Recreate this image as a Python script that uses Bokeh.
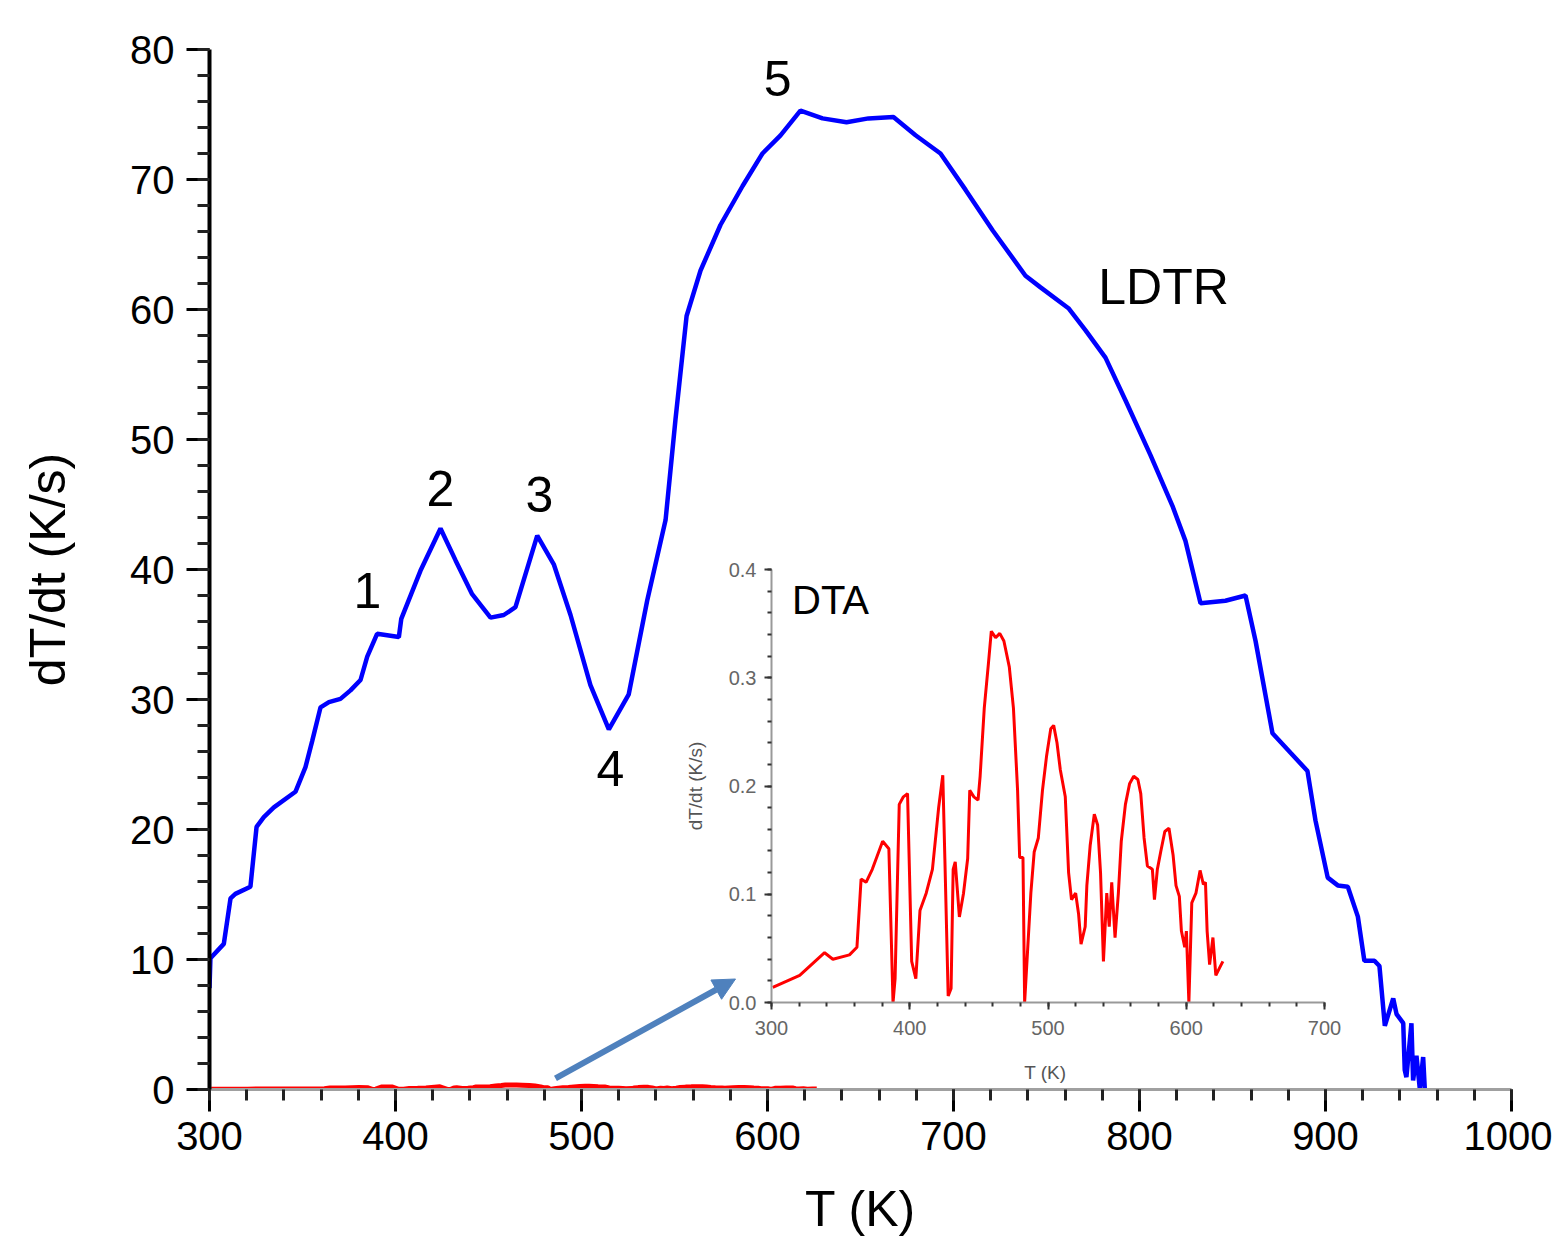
from bokeh.plotting import figure
from bokeh.layouts import column
from bokeh.models import (ColumnDataSource, SingleIntervalTicker, Arrow, NormalHead,
                          Label, NumeralTickFormatter, Range1d)
from bokeh.embed import file_html
from bokeh.resources import INLINE

FONT = "Liberation Sans"

# ---------------- data ----------------
ldtr_T = [300, 300.5, 307.7, 311.3, 313.9, 322, 325.3, 329.2, 334.6, 346.2, 351.6, 355.2,
          359.7, 364.2, 370.4, 375.8, 381.2, 384.8, 390.1, 401.8, 403.1, 413.4, 424.2,
          432.3, 441.2, 451.1, 458.2, 464.5, 476.2, 485.1, 494.1, 504.8, 514.7, 525.4,
          535.3, 545.2, 550.5, 556.5, 564, 574.7, 586.6, 597.3, 607, 617.7, 629.6, 642.5,
          654.3, 667.7, 679.6, 693, 706.5, 721, 738.7, 746.8, 761.8, 771, 781.7, 792.5,
          805.9, 817.7, 824.7, 832.8, 846.2, 857, 862.4, 871.5, 881.2, 890.3, 894.6,
          901.2, 906.6, 912, 917.4, 920.9, 926.3, 929, 931.9, 936.4, 938.2, 941.8, 942.6,
          943.5, 946.2, 947.1, 948.9, 950.7, 952.5, 953.4]
ldtr_v = [7.8, 10.1, 11.2, 14.7, 15.05, 15.6, 20.2, 20.95, 21.7, 22.9, 24.8, 26.8,
          29.4, 29.8, 30.05, 30.7, 31.5, 33.3, 35.05, 34.8, 36.2, 39.9, 43.15,
          40.7, 38.1, 36.3, 36.5, 37.1, 42.6, 40.4, 36.5, 31.1, 27.7, 30.4,
          37.6, 43.8, 51.5, 59.5, 63, 66.5, 69.5, 72, 73.4, 75.3, 74.7, 74.4,
          74.7, 74.8, 73.4, 72, 69.2, 66.1, 62.6, 61.7, 60.1, 58.4, 56.3, 53,
          48.8, 44.9, 42.2, 37.4, 37.6, 38, 34.5, 27.4, 25.9, 24.5, 20.7,
          16.3, 15.7, 15.6, 13.3, 9.9, 9.9, 9.5, 4.9, 7.0, 5.8, 5.1, 1.5,
          0.95, 5.1, 0.7, 2.6, 0.05, 2.5, 0.0]

dta_T = [300.9, 320.4, 338.4, 344.4, 356.4, 361.8, 364.8, 368.4, 372.9, 380.4, 384.9,
         387.9, 389.4, 392.4, 395.4, 398.4, 401.4, 404.4, 407.4, 411.9, 416.4, 420.9,
         423.9, 425.4, 427.8, 429.9, 431.4, 432.9, 435.9, 438.9, 441.9, 443.4, 446.4,
         449.4, 450.9, 453.9, 456.9, 459.0, 462.1, 465.1, 468.1, 472.0, 475.0, 478.0,
         479.5, 481.9, 483.1, 485.5, 487.6, 490.0, 493.0, 496.0, 499.0, 502.0, 504.1,
         506.5, 508.9, 512.5, 514.9, 517.0, 520.0, 522.1, 523.9, 526.9, 528.1, 530.5,
         533.5, 535.9, 538.0, 540.1, 542.5, 544.3, 546.1, 548.5, 550.9, 553.0, 556.0,
         559.0, 562.0, 565.0, 567.1, 569.5, 571.9, 575.5, 577.0, 579.1, 581.5, 584.5,
         587.5, 590.5, 592.6, 595.0, 596.5, 598.9, 600.1, 601.9, 604.0, 607.0, 610.0,
         612.4, 613.9, 615.1, 616.9, 619.3, 621.4, 624.1, 626.5]
dta_v = [0.014, 0.025, 0.046, 0.040, 0.044, 0.051, 0.114, 0.111, 0.123, 0.149, 0.142,
         0.0, 0.022, 0.183, 0.190, 0.193, 0.038, 0.022, 0.085, 0.101, 0.123, 0.180,
         0.210, 0.133, 0.006, 0.013, 0.123, 0.130, 0.079, 0.101, 0.133, 0.196, 0.190,
         0.187, 0.209, 0.272, 0.313, 0.343, 0.337, 0.341, 0.334, 0.310, 0.272, 0.196,
         0.134, 0.134, 0.0, 0.054, 0.101, 0.139, 0.152, 0.196, 0.228, 0.253, 0.256,
         0.240, 0.215, 0.190, 0.120, 0.095, 0.101, 0.082, 0.054, 0.070, 0.108, 0.145,
         0.174, 0.164, 0.120, 0.038, 0.101, 0.070, 0.111, 0.060, 0.101, 0.149, 0.183,
         0.202, 0.209, 0.206, 0.193, 0.152, 0.126, 0.123, 0.095, 0.123, 0.139, 0.158,
         0.161, 0.136, 0.108, 0.098, 0.066, 0.051, 0.066, 0.0, 0.092, 0.101, 0.122,
         0.109, 0.111, 0.066, 0.035, 0.060, 0.025, 0.032, 0.038]

peak_labels = ["1", "2", "3", "4", "5"]
peak_T = [384.9, 424.2, 477.4, 515.6, 605.4]
peak_v = [38.4, 46.2, 45.8, 24.7, 77.8]

ldtr_src = ColumnDataSource(dict(T=ldtr_T, v=ldtr_v))
dta_src = ColumnDataSource(dict(T=dta_T, v=dta_v))

# ---------------- main plot ----------------
LEFT, RIGHT, TOP, BOTTOM = 209, 41, 49, 151
FRAME_W, FRAME_H = 1302, 1040
main = figure(width=LEFT + FRAME_W + RIGHT, height=TOP + FRAME_H + BOTTOM,
              x_range=Range1d(300, 1000), y_range=Range1d(0, 80),
              output_backend="svg", toolbar_location=None,
              min_border_left=LEFT, min_border_right=RIGHT, min_border_top=TOP,
              min_border_bottom=BOTTOM)
main.outline_line_color = None
main.grid.visible = False

main.line("T", "v", source=ldtr_src, line_color="#0000ff", line_width=4.5)
main.line("T", "v", source=dta_src, line_color="#ff0000", line_width=5)

xa = main.xaxis[0]
xa.ticker = SingleIntervalTicker(interval=100, num_minor_ticks=5)
xa.axis_line_color = "#a0a0a0"
xa.axis_line_width = 3
xa.major_tick_line_color = "black"
xa.minor_tick_line_color = "#222222"
xa.major_tick_line_width = 3
xa.minor_tick_line_width = 3
xa.major_tick_out = 22
xa.major_tick_in = 0
xa.minor_tick_out = 11
xa.minor_tick_in = 0
xa.major_label_text_font = FONT
xa.major_label_text_font_size = "40px"
xa.major_label_text_color = "black"
xa.major_label_standoff = 10
xa.axis_label = "T (K)"
xa.axis_label_text_font = FONT
xa.axis_label_text_font_size = "50px"
xa.axis_label_text_font_style = "normal"
xa.axis_label_text_color = "black"
xa.axis_label_standoff = 28

ya = main.yaxis[0]
ya.ticker = SingleIntervalTicker(interval=10, num_minor_ticks=5)
ya.axis_line_color = "black"
ya.axis_line_width = 4
ya.major_tick_line_color = "black"
ya.minor_tick_line_color = "#222222"
ya.major_tick_line_width = 3
ya.minor_tick_line_width = 3
ya.major_tick_out = 23
ya.major_tick_in = 0
ya.minor_tick_out = 12
ya.minor_tick_in = 0
ya.major_label_text_font = FONT
ya.major_label_text_font_size = "40px"
ya.major_label_text_color = "black"
ya.major_label_standoff = 12
ya.axis_label = "dT/dt (K/s)"
ya.axis_label_text_font = FONT
ya.axis_label_text_font_size = "50px"
ya.axis_label_text_font_style = "normal"
ya.axis_label_text_color = "black"
ya.axis_label_standoff = 51

for t, x, y in zip(peak_labels, peak_T, peak_v):
    main.add_layout(Label(x=x, y=y, text=t, text_align="center", text_baseline="middle",
                          text_font=FONT, text_font_size="50px", text_color="black"))
main.add_layout(Label(x=812.9, y=61.7, text="LDTR", text_align="center",
                      text_baseline="middle", text_font=FONT, text_font_size="50px",
                      text_color="black"))

main.add_layout(Arrow(end=NormalHead(size=22, fill_color="#4f81bd", line_color="#4f81bd"),
                      x_start=486, y_start=0.85, x_end=582.8, y_end=8.5,
                      line_color="#4f81bd", line_width=6))

# ---------------- inset ----------------
# In a column Bokeh aligns the side borders of the plots, so the inset shares
# the main plot's left/right borders; its frame is placed with CSS.
IN_FRAME_W, IN_FRAME_H = 553, 436
IN_TOP, IN_BOTTOM = 10, 80
IN_FRAME_LEFT, IN_FRAME_TOP = 771, 569
inset = figure(width=LEFT + IN_FRAME_W + RIGHT, height=IN_TOP + IN_FRAME_H + IN_BOTTOM,
               x_range=Range1d(300, 700), y_range=Range1d(0, 0.4),
               output_backend="svg", toolbar_location=None,
               min_border_left=LEFT, min_border_right=RIGHT, min_border_top=IN_TOP,
               min_border_bottom=IN_BOTTOM,
               background_fill_alpha=0, border_fill_alpha=0,
               styles={"position": "absolute",
                       "left": f"{IN_FRAME_LEFT - LEFT}px",
                       "top": f"{IN_FRAME_TOP - IN_TOP}px"})
inset.outline_line_color = None
inset.grid.visible = False
inset.line("T", "v", source=dta_src, line_color="#ff0000", line_width=3)

ix = inset.xaxis[0]
ix.ticker = SingleIntervalTicker(interval=100, num_minor_ticks=5)
iy = inset.yaxis[0]
iy.ticker = SingleIntervalTicker(interval=0.1, num_minor_ticks=5)
iy.formatter = NumeralTickFormatter(format="0.0")
for ax in (ix, iy):
    ax.axis_line_color = "#999999"
    ax.axis_line_width = 2
    ax.major_tick_line_color = "#333333"
    ax.minor_tick_line_color = "#333333"
    ax.major_tick_line_width = 2
    ax.minor_tick_line_width = 2
    ax.major_tick_out = 7
    ax.major_tick_in = 0
    ax.minor_tick_out = 4
    ax.minor_tick_in = 0
    ax.major_label_text_font = FONT
    ax.major_label_text_font_size = "20px"
    ax.major_label_text_color = "#666666"
    ax.axis_label_text_font = FONT
    ax.axis_label_text_font_size = "19px"
    ax.axis_label_text_font_style = "normal"
    ax.axis_label_text_color = "#555555"
ix.major_label_standoff = 11
ix.axis_label = "T  (K)"
ix.axis_label_standoff = 24
iy.major_label_standoff = 8
iy.axis_label = "dT/dt (K/s)"
iy.axis_label_standoff = 20

inset.add_layout(Label(x=342.7, y=0.372, text="DTA", text_align="center",
                       text_baseline="middle", text_font=FONT, text_font_size="40px",
                       text_color="black"))

layout = column(main, inset, styles={"position": "relative"})

open("out.html", "w").write(file_html(layout, INLINE))
